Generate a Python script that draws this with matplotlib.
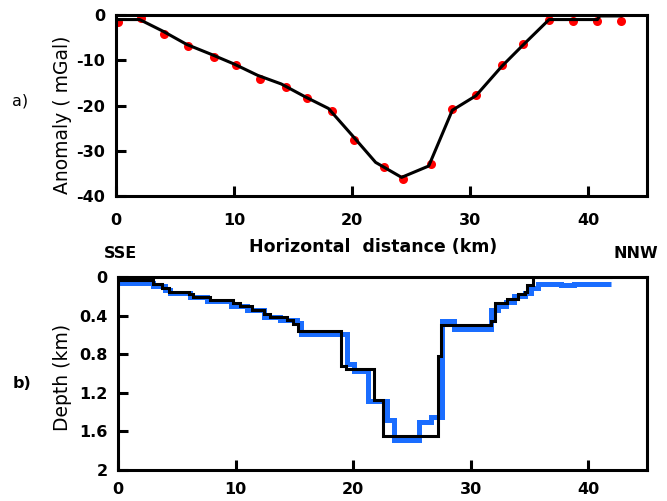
import matplotlib
matplotlib.use("Agg")
import matplotlib.pyplot as plt
import numpy as np

plt.rcParams['font.family'] = ['DejaVu Sans']
plt.rcParams['font.weight'] = 'bold'
plt.rcParams['axes.unicode_minus'] = False

# a) observed gravity anomaly (red) and model response (black)
obs_x = [0.2, 2.1, 4.1, 6.1, 8.3, 10.2, 12.2, 14.4, 16.2, 18.3, 20.2, 22.7, 24.3,
         26.7, 28.5, 30.5, 32.7, 34.5, 36.7, 38.7, 40.8, 42.8]
obs_g = [-1.5, -0.7, -4.1, -6.8, -9.2, -11.0, -14.1, -15.8, -18.4, -21.1, -27.6, -33.5, -36.2,
         -32.9, -20.7, -17.7, -11.1, -6.4, -1.0, -1.3, -1.3, -1.3]
calc_x = [0.0, 2.0, 4.0, 6.0, 8.0, 10.0, 12.0, 14.0, 16.0, 18.0, 20.0, 22.0, 24.2,
          26.5, 28.5, 30.5, 32.7, 34.5, 36.7, 40.8, 41.0, 42.8]
calc_g = [-1.0, -1.0, -3.6, -6.5, -8.6, -10.8, -13.3, -15.2, -18.0, -20.6, -26.5, -32.5, -35.8,
          -33.3, -21.0, -17.8, -11.3, -6.6, -1.0, -1.0, -0.2, -0.2]

# b) basement depth: model blocks (black) and inversion result (blue)
model_edges = [0.0, 3.0, 3.7, 4.3, 6.0, 6.4, 7.8, 9.8, 10.4, 11.4, 12.4, 12.9, 14.4, 14.9, 15.3,
               19.0, 19.4, 21.8, 22.5, 27.2, 27.45, 31.7, 32.1, 33.1, 34.0, 34.6, 34.8, 35.3, 42.0]
model_depth = [0.03, 0.07, 0.11, 0.15, 0.18, 0.21, 0.24, 0.27, 0.30, 0.34, 0.38, 0.41, 0.45, 0.49,
               0.56, 0.92, 0.955, 1.27, 1.65, 0.82, 0.50, 0.46, 0.27, 0.23, 0.18, 0.15, 0.08, 0.0]
inv_edges = [0.0, 3.0, 4.0, 4.4, 6.1, 7.6, 9.6, 11.0, 12.4, 13.8, 15.2, 15.6, 19.5, 20.1, 21.3,
             22.9, 23.5, 25.6, 26.6, 27.6, 28.6, 31.7, 32.3, 33.0, 33.7, 34.6, 35.1, 35.7, 37.7,
             38.8, 41.9]
inv_depth = [0.06, 0.09, 0.13, 0.165, 0.21, 0.25, 0.30, 0.34, 0.41, 0.45, 0.48, 0.59, 0.90, 0.97,
             1.29, 1.48, 1.69, 1.50, 1.45, 0.46, 0.54, 0.34, 0.30, 0.26, 0.20, 0.165, 0.11, 0.07,
             0.08, 0.07]

xticks = [0, 10, 20, 30, 40]
fs_tick = 11.5
fs_ylab = 13.5

fig = plt.figure(figsize=(6.67, 5.01), dpi=100)
ax1 = fig.add_axes([0.174, 0.608, 0.796, 0.362])
ax2 = fig.add_axes([0.177, 0.062, 0.793, 0.385])

def style(ax, xpad, ypad):
    for s in ax.spines.values():
        s.set_linewidth(2.2)
    ax.tick_params(direction='in', length=7, width=2.2, top=False, right=False,
                   labelsize=fs_tick)
    ax.tick_params(axis='x', pad=xpad)
    ax.tick_params(axis='y', pad=ypad)

# panel a
ax1.plot(obs_x, obs_g, 'o', color='#ff0000', markersize=6.5, markeredgewidth=0, zorder=2)
ax1.plot(calc_x, calc_g, '-', color='black', lw=2.2, zorder=3)
ax1.set_xlim(0, 45)
ax1.set_ylim(-40, 0)
ax1.set_xticks(xticks)
ax1.set_yticks([0, -10, -20, -30, -40])
style(ax1, 12, 8)
ax1.set_ylabel('Anomaly ( mGal)', fontsize=fs_ylab, fontweight='normal')
ax1.yaxis.set_label_coords(-0.083, 0.45)
ax1.set_xlabel('Horizontal  distance (km)', fontsize=12.5, fontweight='bold')
ax1.xaxis.set_label_coords(0.484, -0.23)

# panel b
ax2.stairs(inv_depth, inv_edges, baseline=None, color='#1a6dff', lw=3.6, zorder=2)
ax2.stairs(model_depth, model_edges, baseline=None, color='black', lw=2.2, zorder=3)
ax2.set_xlim(0, 45)
ax2.set_ylim(2, 0)
ax2.set_xticks(xticks)
ax2.set_yticks([0, 0.4, 0.8, 1.2, 1.6, 2])
ax2.set_yticklabels(['0', '0.4', '0.8', '1.2', '1.6', '2'])
style(ax2, 9, 7.5)
ax2.set_ylabel('Depth (km)', fontsize=fs_ylab, fontweight='normal')
ax2.yaxis.set_label_coords(-0.087, 0.48)

fig.text(20 / 667, 1 - 101 / 501, 'a)', fontsize=fs_tick, fontweight='normal',
         ha='center', va='center')
fig.text(22 / 667, 1 - 383 / 501, 'b)', fontsize=fs_tick, ha='center', va='center')
fig.text(104 / 667, 1 - 254 / 501, 'SSE', fontsize=fs_tick, ha='left', va='center')
fig.text(658 / 667, 1 - 254 / 501, 'NNW', fontsize=fs_tick, ha='right', va='center')

fig.savefig('out.png', dpi=100)
